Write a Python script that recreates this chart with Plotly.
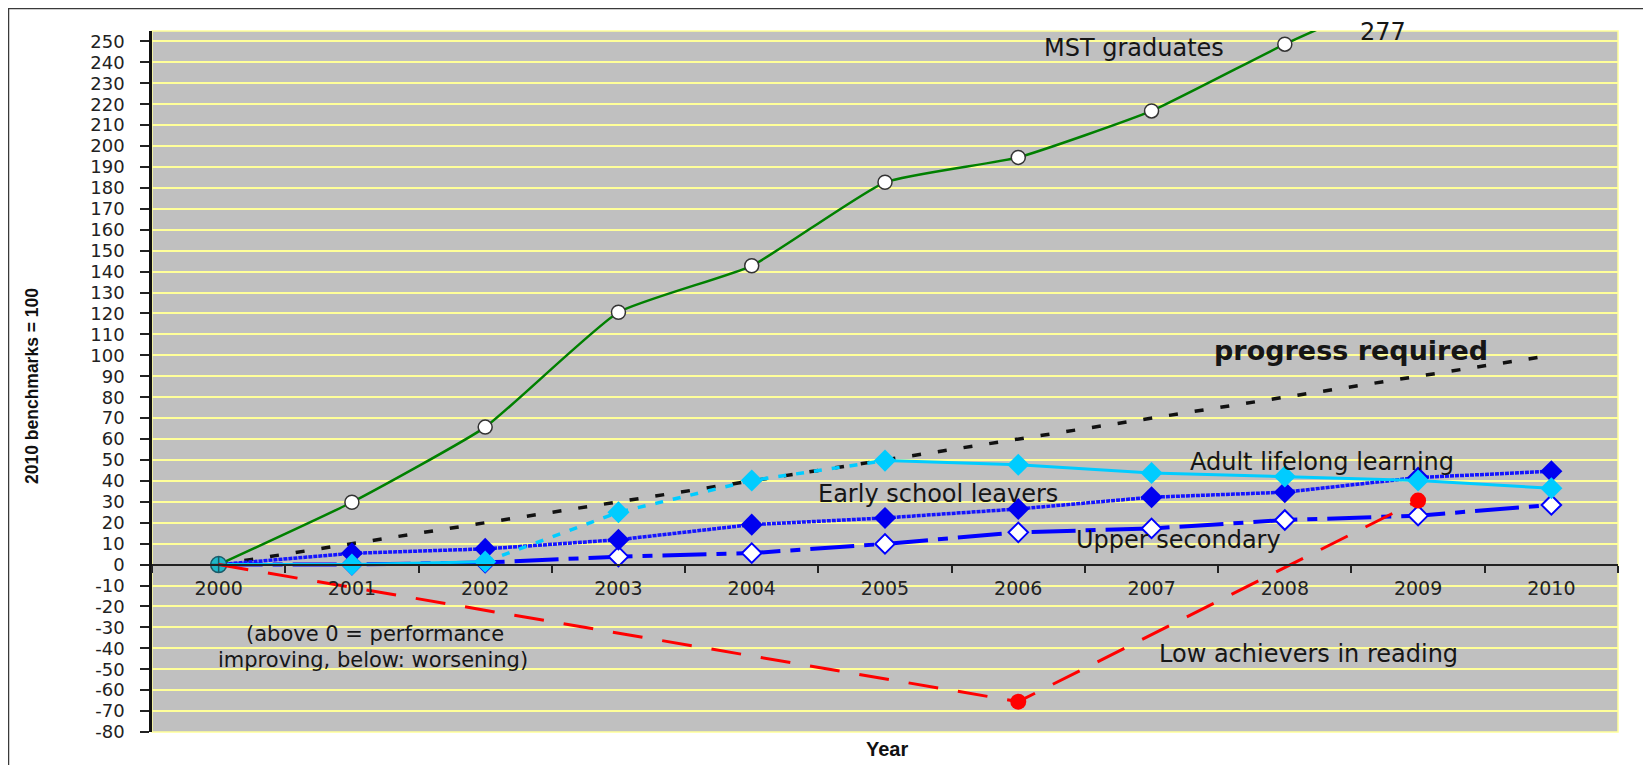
import plotly.graph_objects as go

# ---------------- data ----------------
years = ["2000", "2001", "2002", "2003", "2004", "2005", "2006", "2007", "2008", "2009", "2010"]
mst_graduates = [0, 29.8, 65.7, 120.6, 142.8, 182.7, 194.6, 216.8, 248.7, 277, None]
progress_required = [0, 10, 20, 30, 40, 50, 60, 70, 80, 90, 100]
adult_lifelong = [0, 0, 1.4, 25.0, 40.2, 49.7, 47.7, 43.8, 42.1, 40.2, 36.5]
early_leavers = [0, 5.4, 7.5, 11.9, 19.1, 22.3, 26.6, 32.2, 34.6, 41.6, 44.6]
upper_secondary = [0, 0, 1.0, 3.8, 5.5, 9.9, 15.4, 17.3, 21.3, 23.4, 28.5]
low_achievers = [0, None, None, None, None, None, -65.5, None, None, 30.6, None]
y_ticks = list(range(-80, 251, 10))
mst_label_value = "277"

# ---------------- geometry ----------------
# the page body has an 8px default margin, so the figure is drawn 8px smaller
OFF = 8
W, H = 1651 - OFF, 765 - OFF
PLOT_L, PLOT_R, PLOT_T, PLOT_B = 152, 1618, 31, 732   # wanted screen pixels
ML, MR = PLOT_L - OFF, W - (PLOT_R - OFF)
MT, MB = PLOT_T - OFF, H - (PLOT_B - OFF)
PW, PH = W - ML - MR, H - MT - MB
Y_MIN, Y_MAX = -80, 255


def px_x(px):
    return (px - PLOT_L) / PW


def px_y(py):
    return (PLOT_B - py) / PH


fig = go.Figure()
n = len(years)

# MST graduates (smoothed green line, white circles)
fig.add_trace(go.Scatter(
    x=years, y=mst_graduates, mode="lines+markers",
    line=dict(color="#008000", width=2.5, shape="spline", smoothing=0.45),
    marker=dict(symbol="circle", size=14, color="white", opacity=1,
                line=dict(color="#333333", width=1.5)),
    connectgaps=False, name="MST graduates"))

# progress required (black dotted)
fig.add_trace(go.Scatter(
    x=years, y=progress_required, mode="lines",
    line=dict(color="#111111", width=3.5, dash="9px,17px"),
    name="progress required"))

# Upper secondary (blue long-dash-dot, white diamonds)
fig.add_trace(go.Scatter(
    x=years, y=upper_secondary, mode="lines+markers",
    line=dict(color="#0000FF", width=4, dash="44px,10px,10px,10px"),
    marker=dict(symbol="diamond", size=[0] + [15] * (n - 1), color="white",
                opacity=1, line=dict(color="#0000FF", width=2)),
    name="Upper secondary"))

# Early school leavers (blue textured line, filled diamonds)
fig.add_trace(go.Scatter(
    x=years, y=early_leavers, mode="lines+markers",
    line=dict(color="#1414FF", width=3.5, dash="4px,1px"),
    marker=dict(symbol="diamond", size=[0] + [17] * (n - 1), color="#0000F0",
                opacity=1, line=dict(color="#0000F0", width=0)),
    name="Early school leavers"))

# Adult lifelong learning: solid parts, dotted middle part, markers
adult_solid = [v if (i <= 2 or i >= 5) else None for i, v in enumerate(adult_lifelong)]
adult_dotted = [v if 2 <= i <= 5 else None for i, v in enumerate(adult_lifelong)]
fig.add_trace(go.Scatter(
    x=years, y=adult_solid, mode="lines", connectgaps=False,
    line=dict(color="#00CCFF", width=3), hoverinfo="skip"))
fig.add_trace(go.Scatter(
    x=years, y=adult_dotted, mode="lines", connectgaps=False,
    line=dict(color="#00CCFF", width=3.5, dash="8px,10px"), hoverinfo="skip"))
fig.add_trace(go.Scatter(
    x=years, y=adult_lifelong, mode="markers",
    marker=dict(symbol=["circle-cross"] + ["diamond"] * (n - 1),
                size=[16] + [17] * (n - 1), opacity=1,
                color=["#20B8C8"] + ["#00CCFF"] * (n - 1),
                line=dict(color=["#1A5A68"] + ["#00CCFF"] * (n - 1),
                          width=[1.5] + [0] * (n - 1))),
    name="Adult lifelong learning"))

# Low achievers in reading (red dashed)
fig.add_trace(go.Scatter(
    x=years, y=low_achievers, mode="lines+markers", connectgaps=True,
    line=dict(color="#FF0000", width=3, dash="30px,20px"),
    marker=dict(symbol="circle", size=[0] + [16] * (n - 1), color="#FF0000",
                opacity=1, line=dict(width=0)),
    name="Low achievers in reading"))

# ---------------- annotations ----------------
TXT = "#161616"
FONT = "DejaVu Sans"
ann = []


def label(text, x, y, size=24, bold=False, xref="x", yref="y"):
    ann.append(dict(text=f"<b>{text}</b>" if bold else text, x=x, y=y,
                    xref=xref, yref=yref, showarrow=False,
                    xanchor="center", yanchor="middle",
                    font=dict(family=FONT, size=size, color=TXT)))


label("MST graduates", 6.87, 246.8)
label(mst_label_value, 8.74, px_y(31.7), yref="paper")
label("progress required", 8.5, 102.4, size=27, bold=True)
label("Adult lifelong learning", 8.28, 48.9)
label("Early school leavers", 5.40, 33.8)
label("Upper secondary", 7.20, 11.6)
label("Low achievers in reading", 8.18, -42.8)
label("(above 0 = performance", 1.17, px_y(634), size=21, yref="paper")
label("improving, below: worsening)", 1.16, px_y(659.5), size=21, yref="paper")

ann.append(dict(text="<b>2010 benchmarks = 100</b>", x=px_x(32), y=px_y(386),
                xref="paper", yref="paper", showarrow=False, textangle=-90,
                xanchor="center", yanchor="middle",
                font=dict(family="Liberation Sans Narrow, Liberation Sans, Arial",
                          size=17.5, color="#111111")))
ann.append(dict(text="<b>Year</b>", x=px_x(887), y=px_y(749),
                xref="paper", yref="paper", showarrow=False,
                xanchor="center", yanchor="middle",
                font=dict(family="Liberation Sans", size=20, color="#111111")))

shapes = [
    # plot area border (pale yellow)
    dict(type="rect", xref="paper", yref="paper", x0=0, x1=1, y0=0, y1=1,
         line=dict(color="#FFFF99", width=1.5), layer="below"),
    # outer chart border
    dict(type="rect", xref="paper", yref="paper",
         x0=px_x(8), x1=px_x(1645), y0=px_y(800), y1=px_y(8),
         line=dict(color="#3A3A3A", width=2.5), layer="above"),
]

fig.update_layout(
    width=W, height=H,
    margin=dict(l=ML, r=MR, t=MT, b=MB, autoexpand=False),
    paper_bgcolor="white", plot_bgcolor="#C0C0C0",
    showlegend=False,
    annotations=ann, shapes=shapes,
    xaxis=dict(type="category", categoryorder="array", categoryarray=years,
               range=[-0.5, 10.5], anchor="free",
               position=(0 - Y_MIN) / (Y_MAX - Y_MIN),
               showgrid=False, zeroline=False,
               showline=True, linecolor="#222222", linewidth=2,
               ticks="outside", tickson="boundaries", ticklen=7, tickwidth=2,
               tickcolor="#222222", ticklabelstandoff=7,
               tickfont=dict(family=FONT, size=19, color="#222222"),
               automargin=False, fixedrange=True),
    yaxis=dict(range=[Y_MIN, Y_MAX], tickmode="array", tickvals=y_ticks,
               ticktext=[str(v) for v in y_ticks],
               showgrid=True, gridcolor="#FFFF99", gridwidth=1.5,
               zeroline=False, showline=True, linecolor="#111111", linewidth=2.5,
               ticks="outside", ticklen=9, tickwidth=2, tickcolor="#222222",
               ticklabelstandoff=12,
               tickfont=dict(family=FONT, size=18, color="#222222"),
               automargin=False, fixedrange=True),
)

fig.write_html("out.html")
